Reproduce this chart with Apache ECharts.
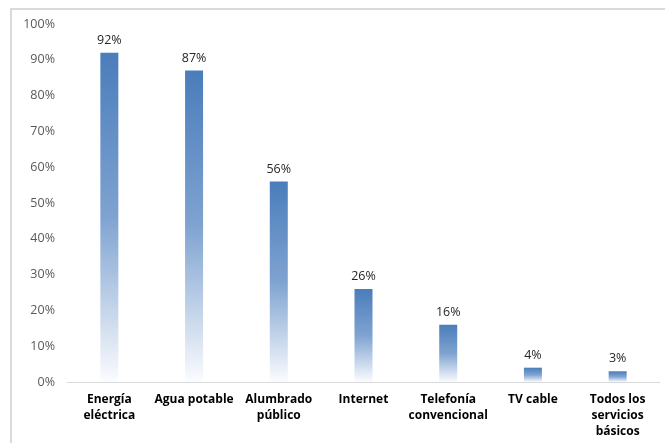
<!DOCTYPE html>
<html>
<head>
<meta charset="utf-8">
<script src="https://cdn.jsdelivr.net/npm/echarts@6/dist/echarts.min.js"></script>
<style>
  html, body { margin: 0; padding: 0; background: #fff; }
  #frame { position: absolute; left: 10px; top: 8px; width: 660px; height: 440px; border-left: 2px solid #d9d9d9; border-top: 2px solid #d9d9d9; box-sizing: border-box; }
  #chart { position: absolute; left: 0; top: 0; width: 665px; height: 443px; }
</style>
</head>
<body>
<div id="frame"></div>
<div id="chart"></div>
<script>
// Access to basic services (% of households)
const categories = [
  'Energía\neléctrica',
  'Agua potable',
  'Alumbrado\npúblico',
  'Internet',
  'Telefonía\nconvencional',
  'TV cable',
  'Todos los\nservicios\nbásicos'
];
const values = [92, 87, 56, 26, 16, 4, 3];
const yTicks = [0, 10, 20, 30, 40, 50, 60, 70, 80, 90, 100];

const chart = echarts.init(document.getElementById('chart'), null, { renderer: 'canvas' });
chart.setOption({
  animation: false,
  textStyle: { fontFamily: 'Open Sans' },
  grid: { left: 67, right: 5, top: 24, bottom: 61 },
  xAxis: {
    type: 'category',
    data: categories,
    axisLine: { lineStyle: { color: '#d9d9d9', width: 1 } },
    axisTick: { show: false },
    axisLabel: {
      interval: 0,
      margin: 10,
      color: '#000',
      fontWeight: 'bold',
      fontSize: 12,
      lineHeight: 16,
      fontFamily: 'Open Sans'
    }
  },
  yAxis: {
    type: 'value',
    min: yTicks[0],
    max: yTicks[yTicks.length - 1],
    interval: 10,
    splitLine: { show: false },
    axisLine: { show: false },
    axisTick: { show: false },
    axisLabel: {
      margin: 12,
      color: '#595959',
      fontSize: 12.5,
      formatter: v => v + '%'
    }
  },
  series: [{
    type: 'bar',
    data: values,
    barWidth: 18,
    itemStyle: {
      color: new echarts.graphic.LinearGradient(0, 0, 0, 1, [
        { offset: 0, color: '#4a7dbb' },
        { offset: 0.5, color: '#7fa3d1' },
        { offset: 1, color: '#fbfcfe' }
      ])
    },
    label: {
      show: true,
      position: 'top',
      distance: 6,
      color: '#262626',
      fontSize: 12.5,
      formatter: p => p.value + '%'
    }
  }]
});
</script>
</body>
</html>
